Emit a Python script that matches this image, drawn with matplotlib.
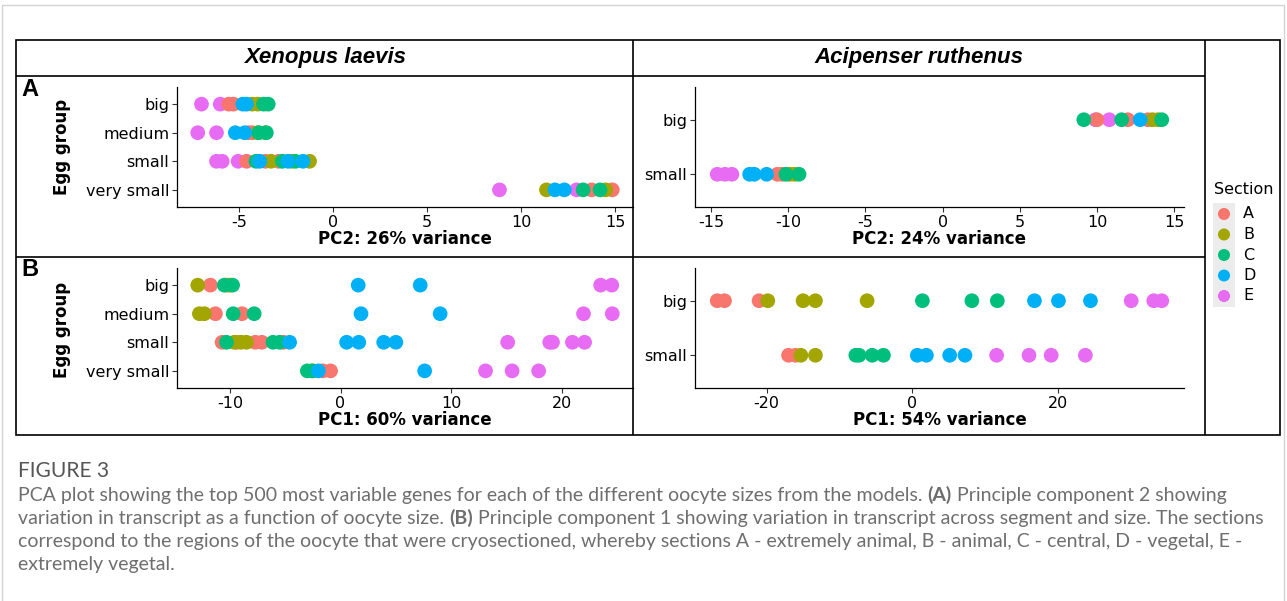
import matplotlib
matplotlib.use('Agg')
import matplotlib.pyplot as plt
from matplotlib.patches import Rectangle

W, H = 1287, 601
plt.rcParams['axes.unicode_minus'] = False
plt.rcParams['font.family'] = ['DejaVu Sans']

# ---------------- data ----------------
sections = ['A', 'B', 'C', 'D', 'E']
section_colors = ['#F8766D', '#A3A500', '#00BF7D', '#00B0F6', '#E76BF3']
draw_order = ['E', 'A', 'B', 'C', 'D']

xl_groups = ['big', 'medium', 'small', 'very small']
ar_groups = ['big', 'small']

species = ['Xenopus laevis', 'Acipenser ruthenus']
xlabels_pc2 = ['PC2: 26% variance', 'PC2: 24% variance']
xlabels_pc1 = ['PC1: 60% variance', 'PC1: 54% variance']

xl_pc2_ticks = [-5, 0, 5, 10, 15]
ar_pc2_ticks = [-15, -10, -5, 0, 5, 10, 15]
xl_pc1_ticks = [-10, 0, 10, 20]
ar_pc1_ticks = [-20, 0, 20]

# Xenopus laevis, PC2 (rows: big, medium, small, very small)
xl_pc2_A = [[-5.55, -5.3], [-4.5, -4.3], [-4.6, -3.6, -2.9], [13.75, 14.85]]
xl_pc2_B = [[-4.3, -4.0], [-4.0, -3.6], [-3.3, -1.25, -2.2], [11.35, 14.5]]
xl_pc2_C = [[-3.7, -3.45], [-3.95, -3.55], [-4.1, -2.7, -2.0], [13.3, 14.2]]
xl_pc2_D = [[-4.8, -4.6], [-5.2, -4.7], [-3.9, -2.4, -1.6], [11.8, 12.3]]
xl_pc2_E = [[-7.0, -6.0], [-7.2, -6.2], [-6.2, -5.9, -5.05], [8.85, 12.95]]

# Acipenser ruthenus, PC2 (rows: big, small)
ar_pc2_A = [[10.0, 12.0, 13.3], [-10.7, -10.4]]
ar_pc2_B = [[13.6, 13.95], [-9.6, -9.9]]
ar_pc2_C = [[9.15, 11.6, 14.2], [-10.15, -9.3]]
ar_pc2_D = [[12.8], [-12.5, -12.2, -11.4]]
ar_pc2_E = [[9.9, 10.8], [-14.6, -14.1, -13.65]]

# Xenopus laevis, PC1
xl_pc1_A = [[-11.75, -10.3], [-11.3, -8.9], [-10.7, -9.4, -7.7, -7.1, -5.15], [-1.6, -0.9]]
xl_pc1_B = [[-12.9, -10.0], [-12.75, -12.3], [-9.0, -8.5, -9.6], [-2.5]]
xl_pc1_C = [[-10.5, -9.75], [-9.7, -7.8], [-10.3, -6.1, -5.5], [-3.0, -2.6]]
xl_pc1_D = [[1.6, 7.2], [1.85, 9.0], [-4.6, 0.55, 1.65, 3.9, 5.0], [-2.0, 7.6]]
xl_pc1_E = [[23.5, 24.5], [21.95, 24.55], [15.1, 18.9, 19.15, 20.95, 22.05], [13.1, 15.5, 17.9]]

# Acipenser ruthenus, PC1
ar_pc1_A = [[-26.8, -25.8, -21.05], [-17.0, -16.05]]
ar_pc1_B = [[-19.85, -15.0, -13.3, -6.2], [-15.3, -13.3]]
ar_pc1_C = [[1.4, 8.2, 11.7], [-7.75, -7.3, -5.5, -3.95]]
ar_pc1_D = [[16.8, 20.1, 24.5], [0.7, 1.95, 5.15, 7.25]]
ar_pc1_E = [[30.1, 33.2, 34.3], [11.6, 16.05, 19.1, 23.8]]

caption_title = 'FIGURE 3'
caption_lines = [
    [("PCA plot showing the top 500 most variable genes for each of the different oocyte sizes from the models.", 'normal'),
     (" ", 'normal'), ("(A)", 'bold'), (" Principle component 2 showing", 'normal')],
    [("variation in transcript as a function of oocyte size.", 'normal'), (" ", 'normal'), ("(B)", 'bold'),
     (" Principle component 1 showing variation in transcript across segment and size. The sections", 'normal')],
    [("correspond to the regions of the oocyte that were cryosectioned, whereby sections A - extremely animal, "
      "B - animal, C - central, D - vegetal, E -", 'normal')],
    [("extremely vegetal.", 'normal')],
]

# ---------------- figure ----------------
fig = plt.figure(figsize=(W / 100, H / 100), dpi=100)
fig.patch.set_facecolor('white')

ov = fig.add_axes([0, 0, 1, 1])
ov.set_xlim(0, W)
ov.set_ylim(H, 0)
ov.axis('off')

# outer light frame
ov.plot([2, 2, 1284, 1284], [601, 5, 5, 601], color='#d4d4d4', lw=1.0)
# black figure box
lk = dict(color='black', lw=1.2, solid_capstyle='butt')
ov.add_patch(Rectangle((16, 40), 1264, 395, fill=False, ec='black', lw=1.2))
ov.plot([16, 1205], [76, 76], **lk)
ov.plot([16, 1205], [257, 257], **lk)
ov.plot([633, 633], [40, 435], **lk)
ov.plot([1205, 1205], [40, 435], **lk)

# headers
for cx, name in zip([325, 919], species):
    ov.text(cx, 58, name, ha='center', va='center', fontsize=16, fontweight='bold',
            fontstyle='italic', family='Liberation Sans')

# panel tags and y titles
ov.text(21, 90, 'A', ha='left', va='center', fontsize=17, fontweight='bold', family='Liberation Sans')
ov.text(21, 270, 'B', ha='left', va='center', fontsize=17, fontweight='bold', family='Liberation Sans')
ov.text(62, 147, 'Egg group', rotation=90, ha='center', va='center', fontsize=12, fontweight='bold')
ov.text(62, 330, 'Egg group', rotation=90, ha='center', va='center', fontsize=12, fontweight='bold')


def px_axes(x0, y0, x1, y1):
    a = fig.add_axes([x0 / W, 1 - y1 / H, (x1 - x0) / W, (y1 - y0) / H])
    a.set_facecolor('none')
    return a


def draw_panel(ax, groups, data, xticks, xlabel):
    n = len(groups)
    for sec in draw_order:
        i = sections.index(sec)
        xs, ys = [], []
        for gi, vals in enumerate(data[sec]):
            xs += vals
            ys += [n - gi] * len(vals)
        ax.scatter(xs, ys, s=112, color=section_colors[i], edgecolors='none', zorder=3, clip_on=False)
    ax.margins(x=0.05)
    ax.autoscale_view()
    ax.set_ylim(0.4, n + 0.6)
    ax.set_yticks(range(n, 0, -1))
    ax.set_yticklabels(groups)
    ax.set_xticks(xticks)
    ax.set_xticklabels([str(t) for t in xticks])
    ax.set_xlabel(xlabel, fontweight='bold', fontsize=12, labelpad=0)
    for s in ['top', 'right']:
        ax.spines[s].set_visible(False)
    for s in ['left', 'bottom']:
        ax.spines[s].set_linewidth(0.9)
        ax.spines[s].set_color('black')
    ax.tick_params(axis='both', length=3.5, width=0.8, color='#333333', labelsize=11.5,
                   labelcolor='black', pad=2)


axA1 = px_axes(177, 87, 633, 207)
draw_panel(axA1, xl_groups, dict(A=xl_pc2_A, B=xl_pc2_B, C=xl_pc2_C, D=xl_pc2_D, E=xl_pc2_E),
           xl_pc2_ticks, xlabels_pc2[0])
axA2 = px_axes(695, 87, 1184, 207)
draw_panel(axA2, ar_groups, dict(A=ar_pc2_A, B=ar_pc2_B, C=ar_pc2_C, D=ar_pc2_D, E=ar_pc2_E),
           ar_pc2_ticks, xlabels_pc2[1])
axB1 = px_axes(177, 268, 633, 388)
draw_panel(axB1, xl_groups, dict(A=xl_pc1_A, B=xl_pc1_B, C=xl_pc1_C, D=xl_pc1_D, E=xl_pc1_E),
           xl_pc1_ticks, xlabels_pc1[0])
axB2 = px_axes(695, 268, 1184, 388)
draw_panel(axB2, ar_groups, dict(A=ar_pc1_A, B=ar_pc1_B, C=ar_pc1_C, D=ar_pc1_D, E=ar_pc1_E),
           ar_pc1_ticks, xlabels_pc1[1])

# legend
ov.text(1214, 190, 'Section', ha='left', va='center', fontsize=11.5)
ov.add_patch(Rectangle((1213, 203), 22, 104, color='#ececec', lw=0))
for k, (sec, col) in enumerate(zip(sections, section_colors)):
    yk = 214 + 20.5 * k
    ov.scatter([1224], [yk], s=75, color=col, edgecolors='none', zorder=3)
    ov.text(1243, yk, sec, ha='left', va='center', fontsize=11.5)

# caption
cap_font = 'Lato'
cap_color = '#6e6e6e'
renderer = fig.canvas.get_renderer()


def text_width(s, weight, size):
    t = ov.text(0, 0, s + '.', fontsize=size, fontweight=weight, family=cap_font)
    w1 = t.get_window_extent(renderer).width
    t.remove()
    t = ov.text(0, 0, '.', fontsize=size, fontweight=weight, family=cap_font)
    w2 = t.get_window_extent(renderer).width
    t.remove()
    return w1 - w2


base = 12.0
w_line2 = sum(text_width(s, wt, base) for s, wt in caption_lines[1])
cap_size = base * 1240.0 / w_line2

ov.text(18, 477, caption_title, ha='left', va='baseline', fontsize=cap_size * 1.08,
        family=cap_font, color='#555555')
for li, line in enumerate(caption_lines):
    x = 18
    yb = 501 + 23 * li
    for s, wt in line:
        ov.text(x, yb, s, ha='left', va='baseline', fontsize=cap_size, fontweight=wt,
                family=cap_font, color=cap_color)
        x += text_width(s, wt, cap_size)

fig.savefig('out.png', dpi=100, facecolor='white')
